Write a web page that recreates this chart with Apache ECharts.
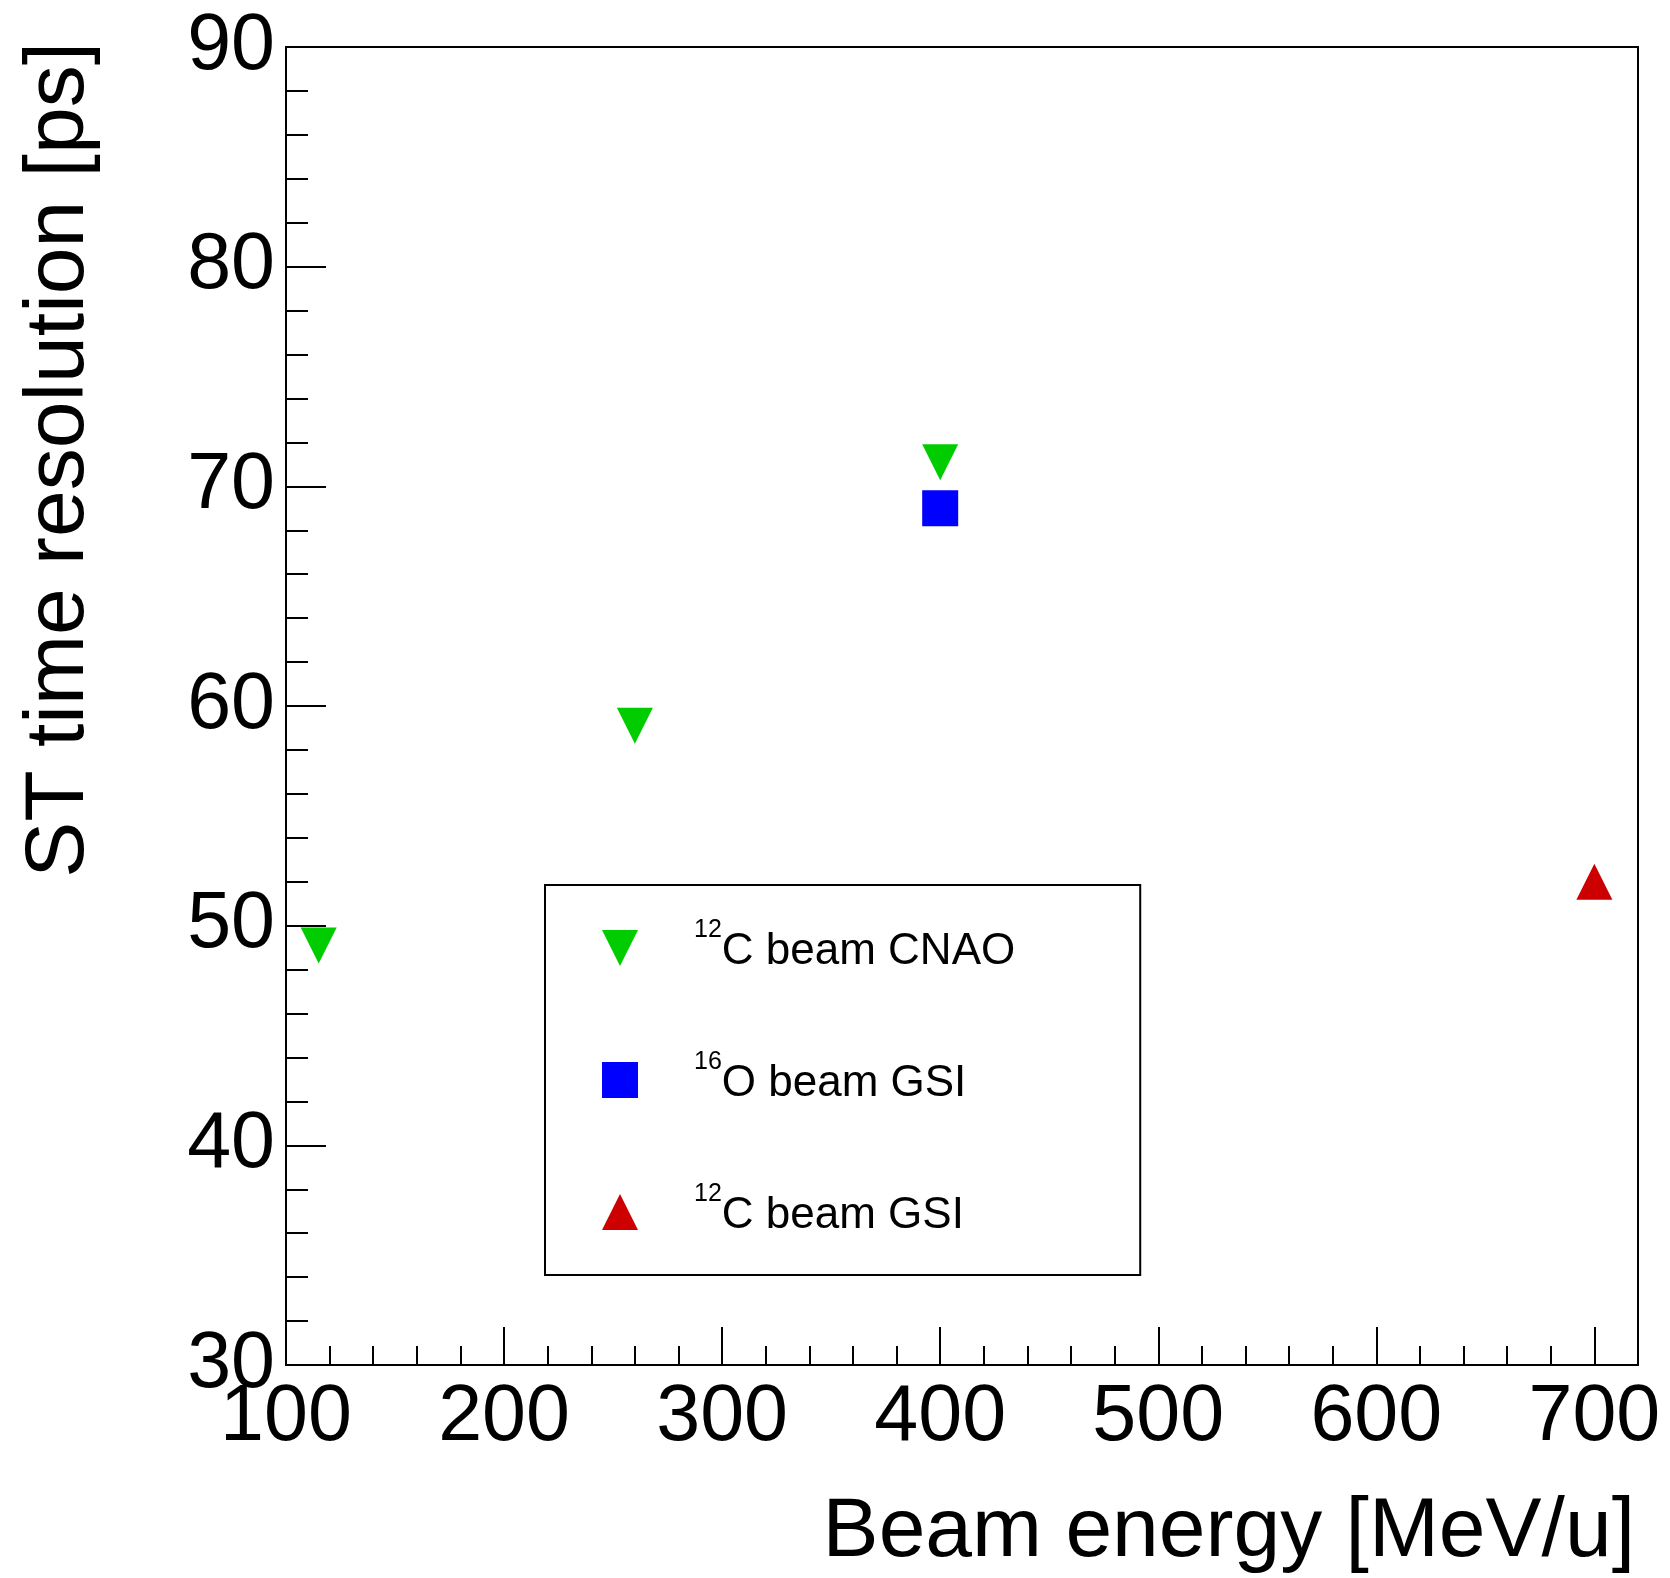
<!DOCTYPE html>
<html>
<head>
<meta charset="utf-8">
<title>ST time resolution vs beam energy</title>
<script src="https://cdn.jsdelivr.net/npm/echarts@6/dist/echarts.min.js"></script>
<style>
  html, body { margin: 0; padding: 0; background: #ffffff; }
  #chart { width: 1670px; height: 1578px; }
</style>
</head>
<body>
<div id="chart"></div>
<script>
// Measured start-counter time resolution for several beams
const energyCNAO = [115, 260, 400];      // MeV/u
const resolutionCNAO = [49.1, 59.1, 71.1]; // ps
const energyO16GSI = [400];
const resolutionO16GSI = [69.0];
const energyC12GSI = [700];
const resolutionC12GSI = [52.0];

// Legend entries: isotope mass number (superscript) and label
const legendMass = ['12', '16', '12'];
const legendText = ['C beam CNAO', 'O beam GSI', 'C beam GSI'];
const seriesNames = legendMass.map((m, i) => m + legendText[i]);

// Axis settings
const xMin = 100, xMax = 720, xStep = 100, xMinorStep = 20;
const yMin = 30, yMax = 90, yStep = 10;

const FONT = 'Liberation Sans, Arial, Helvetica, sans-serif';
const downTriangle = 'path://M0,0L10,0L5,10Z';

function pairs(xs, ys) { return xs.map((x, i) => [x, ys[i]]); }

const chart = echarts.init(document.getElementById('chart'), null, { renderer: 'canvas' });

const option = {
  animation: false,
  backgroundColor: '#ffffff',
  grid: {
    left: 286, right: 32, top: 47, bottom: 213,
    show: true, borderColor: '#000', borderWidth: 2, backgroundColor: 'transparent'
  },
  xAxis: [
    {
      type: 'value', position: 'bottom', min: xMin, max: xMax, interval: xStep,
      axisLine: { show: true, lineStyle: { color: '#000', width: 2 } },
      axisTick: { show: true, inside: true, length: 38, lineStyle: { color: '#000', width: 2 } },
      axisLabel: {
        show: true, margin: 14, color: '#000', fontSize: 79, fontFamily: FONT,
        showMaxLabel: false,
        formatter: v => (v % xStep === 0 ? String(v) : '')
      },
      splitLine: { show: false }
    },
    {
      // minor ticks along the energy axis
      type: 'value', position: 'bottom', min: xMin, max: xMax, interval: xMinorStep,
      axisLine: { show: false },
      axisTick: { show: true, inside: true, length: 19, lineStyle: { color: '#000', width: 2 } },
      axisLabel: { show: false },
      splitLine: { show: false }
    }
  ],
  yAxis: {
    type: 'value', min: yMin, max: yMax, interval: yStep,
    axisLine: { show: true, lineStyle: { color: '#000', width: 2 } },
    axisTick: { show: true, inside: true, length: 40, lineStyle: { color: '#000', width: 2 } },
    minorTick: { show: true, splitNumber: 5, length: 22, lineStyle: { color: '#000', width: 2 } },
    axisLabel: { margin: 11, color: '#000', fontSize: 79, fontFamily: FONT },
    splitLine: { show: false }
  },
  legend: {
    orient: 'vertical',
    left: 545, top: 885,
    padding: [33, 125, 37, 57],
    itemWidth: 36, itemHeight: 36, itemGap: 76,
    borderColor: '#000', borderWidth: 2,
    selectedMode: false,
    data: seriesNames,
    formatter: name => {
      const i = seriesNames.indexOf(name);
      return '{sp| }{sup|' + legendMass[i] + '}{t|' + legendText[i] + '}';
    },
    textStyle: {
      color: '#000', fontFamily: FONT,
      rich: {
        sp: { width: 51, lineHeight: 60, fontSize: 10 },
        sup: { fontSize: 25, lineHeight: 30, verticalAlign: 'top', color: '#000', fontFamily: FONT },
        t: { fontSize: 44, lineHeight: 60, color: '#000', fontFamily: FONT, padding: [8, 0, 0, 0] }
      }
    }
  },
  graphic: [
    {
      type: 'text', x: 1635, y: 1533,
      style: {
        text: 'Beam energy [MeV/u]', fill: '#000', font: '84px ' + FONT,
        align: 'right', verticalAlign: 'middle'
      }
    },
    {
      type: 'text', x: 60, y: 42, rotation: Math.PI / 2,
      style: {
        text: 'ST time resolution [ps]', fill: '#000', font: '84px ' + FONT,
        align: 'right', verticalAlign: 'middle'
      }
    }
  ],
  series: [
    {
      name: seriesNames[0], type: 'scatter', xAxisIndex: 0,
      symbol: downTriangle, symbolSize: 36,
      itemStyle: { color: '#00cc00', opacity: 1 },
      emphasis: { disabled: true },
      data: pairs(energyCNAO, resolutionCNAO)
    },
    {
      name: seriesNames[1], type: 'scatter', xAxisIndex: 0,
      symbol: 'rect', symbolSize: 36,
      itemStyle: { color: '#0000ff', opacity: 1 },
      emphasis: { disabled: true },
      data: pairs(energyO16GSI, resolutionO16GSI)
    },
    {
      name: seriesNames[2], type: 'scatter', xAxisIndex: 0,
      symbol: 'triangle', symbolSize: 36,
      itemStyle: { color: '#cc0000', opacity: 1 },
      emphasis: { disabled: true },
      data: pairs(energyC12GSI, resolutionC12GSI)
    }
  ]
};

chart.setOption(option);
</script>
</body>
</html>
